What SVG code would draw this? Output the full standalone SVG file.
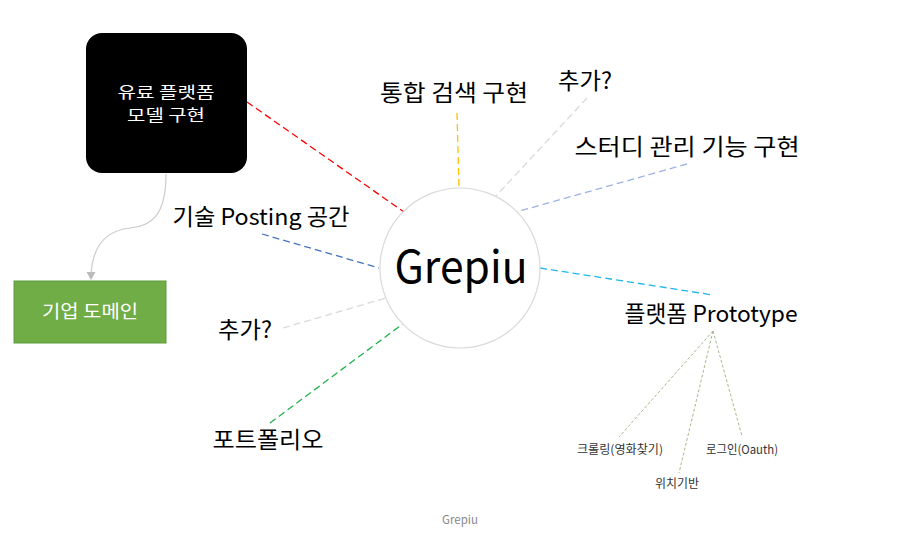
<svg xmlns="http://www.w3.org/2000/svg" width="916" height="537" viewBox="0 0 916 537">
<style>
text{font-family:"Noto Sans CJK KR","Noto Sans",sans-serif;fill:#000}
.lbl{font-size:22.5px}
.sm{font-size:12px;fill:#333}
.wt{fill:#fff}
.dash{fill:none;stroke-width:1.3;stroke-dasharray:7 4}
.sub{fill:none;stroke:#a8b890;stroke-width:1;stroke-dasharray:3 2}
</style>
<rect width="916" height="537" fill="#fff"/>
<g id="connectors">
<path d="M166,174 C166,215 152,226 130,228 C102,231 92,250 91,276" fill="none" stroke="#ccc" stroke-width="1.2"/>
<path d="M86.5,272 L95.5,272 L91,280 z" fill="#bbb"/>
<line class="dash" x1="247" y1="102" x2="404" y2="212" stroke="#ff0000"/>
<line class="dash" x1="457" y1="113" x2="459" y2="188" stroke="#ffc000"/>
<line class="dash" x1="587" y1="98" x2="495" y2="197" stroke="#d9d9d9"/>
<line class="dash" x1="687" y1="164" x2="516" y2="212" stroke="#9db3e6"/>
<line class="dash" x1="540" y1="268" x2="713" y2="295" stroke="#1fb6f0"/>
<line class="dash" x1="262" y1="234" x2="379" y2="268" stroke="#4472c4"/>
<line class="dash" x1="283" y1="328" x2="386" y2="298" stroke="#d9d9d9"/>
<line class="dash" x1="270" y1="423" x2="404" y2="323" stroke="#22b14c"/>
<line class="sub" x1="713" y1="331" x2="619" y2="437"/>
<line class="sub" x1="713" y1="331" x2="679" y2="473"/>
<line class="sub" x1="713" y1="331" x2="742" y2="436"/>
</g>
<g id="center">
<circle cx="460" cy="268" r="80" fill="#fff" stroke="#d9d9d9" stroke-width="1.2"/>
<text x="461" y="283" font-size="45" text-anchor="middle" textLength="133" lengthAdjust="spacingAndGlyphs">Grepiu</text>
</g>
<g id="paid">
<rect x="86" y="33" width="161" height="140" rx="16" fill="#000"/>
<text class="wt" x="166" y="98" font-size="15.5" text-anchor="middle" textLength="97" lengthAdjust="spacingAndGlyphs">유료 플랫폼</text>
<text class="wt" x="166" y="121" font-size="15.5" text-anchor="middle" textLength="78" lengthAdjust="spacingAndGlyphs">모델 구현</text>
</g>
<g id="corp">
<rect x="14" y="281" width="152" height="62" fill="#70ad47" stroke="#5f9a3b" stroke-width="1"/>
<text class="wt" x="90" y="318" font-size="18.5" text-anchor="middle" textLength="96" lengthAdjust="spacingAndGlyphs">기업 도메인</text>
</g>
<g id="search"><text class="lbl" x="454" y="101" text-anchor="middle" textLength="148" lengthAdjust="spacingAndGlyphs">통합 검색 구현</text></g>
<g id="add1"><text class="lbl" x="585" y="89" text-anchor="middle" textLength="54" lengthAdjust="spacingAndGlyphs">추가?</text></g>
<g id="study"><text class="lbl" x="687" y="155" text-anchor="middle" textLength="225" lengthAdjust="spacingAndGlyphs">스터디 관리 기능 구현</text></g>
<g id="tech"><text class="lbl" x="261" y="225" text-anchor="middle" textLength="177" lengthAdjust="spacingAndGlyphs">기술 Posting 공간</text></g>
<g id="add2"><text class="lbl" x="245" y="338" text-anchor="middle" textLength="54" lengthAdjust="spacingAndGlyphs">추가?</text></g>
<g id="portfolio"><text class="lbl" x="268" y="448" text-anchor="middle" textLength="111" lengthAdjust="spacingAndGlyphs">포트폴리오</text></g>
<g id="proto"><text class="lbl" x="711" y="322" text-anchor="middle" textLength="173" lengthAdjust="spacingAndGlyphs">플랫폼 Prototype</text></g>
<g id="crawl"><text class="sm" x="620" y="454" text-anchor="middle" textLength="86" lengthAdjust="spacingAndGlyphs">크롤링(영화찾기)</text></g>
<g id="login"><text class="sm" x="742" y="454" text-anchor="middle" textLength="72" lengthAdjust="spacingAndGlyphs">로그인(Oauth)</text></g>
<g id="loc"><text class="sm" x="677" y="488" text-anchor="middle" textLength="44" lengthAdjust="spacingAndGlyphs">위치기반</text></g>
<text x="460" y="524" font-size="11.5" style="fill:#888" text-anchor="middle">Grepiu</text>
</svg>
